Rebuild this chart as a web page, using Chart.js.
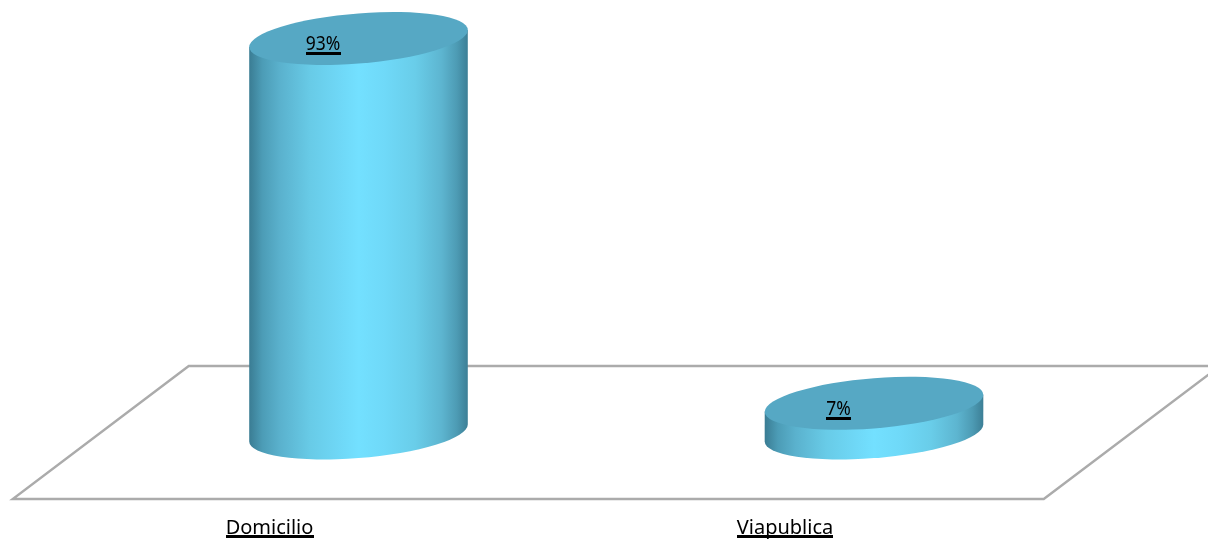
<!DOCTYPE html>
<html lang="es">
<head>
<meta charset="utf-8">
<title>Domicilio y Viapublica</title>
<script src="https://cdn.jsdelivr.net/npm/chart.js@4"></script>
<style>
  html, body { margin: 0; padding: 0; background: #fff; overflow: hidden; }
  canvas { display: block; }
</style>
</head>
<body>
<canvas id="chart" width="1208" height="541"></canvas>
<script>
const categories = ['Domicilio', 'Viapublica'];
const percentages = [93, 7];

const FONT_FAMILY = '"Noto Sans", sans-serif';
const FACE_COLOR = '#56a8c4';
const FLOOR_COLOR = '#ababab';
const SIDE_STOPS = [
  [0, '#3a7c93'], [0.06, '#4c9cb6'], [0.14, '#5ab1cd'], [0.28, '#68cbe7'],
  [0.42, '#6fd8f7'], [0.5, '#73e0ff'], [0.62, '#6fd9f8'], [0.76, '#69cde9'],
  [0.88, '#5db5d0'], [0.95, '#4d9bb4'], [1, '#3c7f96']
];

// Floor plane, drawn as a parallelogram around the plot area.
const floorPlane = {
  id: 'floorPlane',
  beforeDatasetsDraw(chart) {
    const { ctx, chartArea: a } = chart;
    const skew = 88, front = a.bottom + 66, back = a.bottom - 67;
    ctx.save();
    ctx.strokeStyle = FLOOR_COLOR;
    ctx.lineWidth = 2.4;
    ctx.lineJoin = 'miter';
    ctx.beginPath();
    ctx.moveTo(a.left - skew, front);
    ctx.lineTo(a.right - skew, front);
    ctx.lineTo(a.right + skew, back);
    ctx.lineTo(a.left + skew, back);
    ctx.closePath();
    ctx.stroke();
    ctx.restore();
  }
};

// Percentage label on a cylinder's top face: slightly narrowed digits with a heavy underline.
function percentLabel(ctx, text, x, y) {
  const squeeze = 0.92;
  ctx.font = '19px ' + FONT_FAMILY;
  const w = ctx.measureText(text).width * squeeze;
  ctx.save();
  ctx.translate(x, y);
  ctx.scale(squeeze, 1);
  ctx.fillText(text, 0, 0);
  ctx.restore();
  ctx.fillRect(Math.round(x - w / 2), Math.round(y + 2), Math.round(w), 3);
}

// Turns each bar element into a tilted cylinder using the bar's own geometry.
const cylinders = {
  id: 'cylinders',
  afterDatasetsDraw(chart) {
    const { ctx } = chart;
    const meta = chart.getDatasetMeta(0);
    meta.data.forEach((bar, i) => {
      const a = bar.width / 2;
      const tilt = 8.5 / a;
      const ry = 25.1;
      const left = bar.x - a;
      const grad = ctx.createLinearGradient(left, 0, left + bar.width, 0);
      SIDE_STOPS.forEach(([p, c]) => grad.addColorStop(p, c));

      ctx.save();
      ctx.beginPath();
      ctx.moveTo(left, bar.y + a * tilt);
      ctx.lineTo(left, bar.base + a * tilt);
      ctx.save();
      ctx.transform(1, -tilt, 0, 1, bar.x, bar.base);
      ctx.ellipse(0, 0, a, ry, 0, Math.PI, 0, true);
      ctx.restore();
      ctx.lineTo(left + bar.width, bar.y - a * tilt);
      ctx.closePath();
      ctx.fillStyle = grad;
      ctx.fill();

      ctx.save();
      ctx.transform(1, -tilt, 0, 1, bar.x, bar.y);
      ctx.beginPath();
      ctx.ellipse(0, 0, a, ry, 0, 0, Math.PI * 2);
      ctx.restore();
      ctx.fillStyle = FACE_COLOR;
      ctx.fill();

      ctx.fillStyle = '#000';
      ctx.textAlign = 'center';
      ctx.textBaseline = 'alphabetic';
      percentLabel(ctx, percentages[i] + '%', bar.x - 35.5, bar.y + 12);
      ctx.restore();
    });
  },
  // Canvas text has no underline style, so the axis labels get theirs here.
  afterDraw(chart) {
    const { ctx, scales: { x } } = chart;
    const tickOpts = x.options.ticks;
    ctx.save();
    ctx.fillStyle = '#000';
    categories.forEach((c, i) => {
      ctx.font = tickOpts.font.size + 'px ' + FONT_FAMILY;
      const w = ctx.measureText(c).width;
      const cx = x.getPixelForTick(i) + tickOpts.labelOffset;
      ctx.fillRect(Math.round(cx - w / 2), 535, Math.round(w), 3);
    });
    ctx.restore();
  }
};

new Chart(document.getElementById('chart'), {
  type: 'bar',
  data: {
    labels: categories,
    datasets: [{
      data: percentages,
      backgroundColor: 'transparent',
      borderWidth: 0,
      barPercentage: 1,
      categoryPercentage: 0.424
    }]
  },
  plugins: [floorPlane, cylinders],
  options: {
    responsive: false,
    animation: false,
    events: [],
    layout: { padding: { left: 100.75, right: 76.25, top: 8.8, bottom: 0 } },
    plugins: { legend: { display: false }, tooltip: { enabled: false } },
    scales: {
      y: { display: false, min: 0, max: 100 },
      x: {
        grid: { display: false, drawTicks: false },
        border: { display: false },
        afterFit(scale) { scale.height = 108; },
        ticks: {
          color: '#000',
          font: { family: FONT_FAMILY, size: 20 },
          padding: 83,
          labelOffset: -89,
          maxRotation: 0,
          autoSkip: false
        }
      }
    }
  }
});
</script>
</body>
</html>
